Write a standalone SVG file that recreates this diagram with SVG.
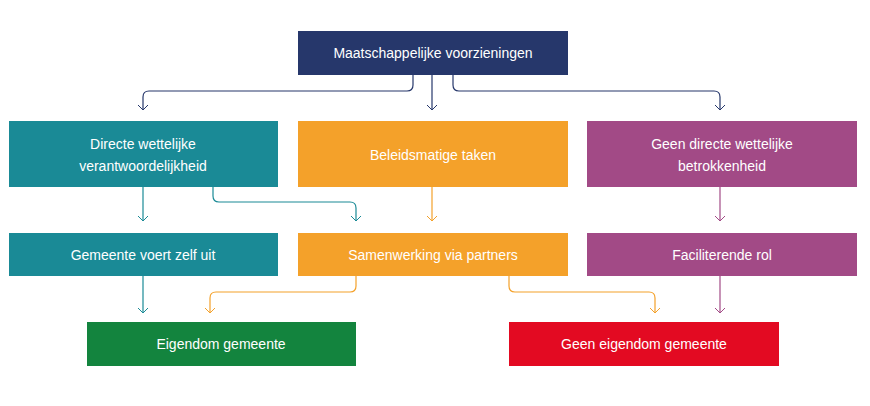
<svg xmlns="http://www.w3.org/2000/svg" width="870" height="406" viewBox="0 0 870 406">
<defs>
<marker id="a" viewBox="0 0 10 10" refX="5" refY="9" markerWidth="10" markerHeight="10" markerUnits="userSpaceOnUse" orient="0"><path d="M0,4 L5,9 L10,4" fill="none" stroke="context-stroke" stroke-width="1"/></marker>
<marker id="an" viewBox="0 0 10 10" refX="5" refY="9" markerWidth="10" markerHeight="10" markerUnits="userSpaceOnUse"><path d="M0,4 L5,9 L10,4" fill="none" stroke="#26376b" stroke-width="1"/></marker>
<marker id="at" viewBox="0 0 10 10" refX="5" refY="9" markerWidth="10" markerHeight="10" markerUnits="userSpaceOnUse"><path d="M0,4 L5,9 L10,4" fill="none" stroke="#1a8a96" stroke-width="1"/></marker>
<marker id="ao" viewBox="0 0 10 10" refX="5" refY="9" markerWidth="10" markerHeight="10" markerUnits="userSpaceOnUse"><path d="M0,4 L5,9 L10,4" fill="none" stroke="#f4a12a" stroke-width="1"/></marker>
<marker id="ap" viewBox="0 0 10 10" refX="5" refY="9" markerWidth="10" markerHeight="10" markerUnits="userSpaceOnUse"><path d="M0,4 L5,9 L10,4" fill="none" stroke="#a24a86" stroke-width="1"/></marker>
</defs>
<style>
text{font-family:"Liberation Sans",Arial,sans-serif;font-size:14px;fill:#fff;text-anchor:middle}
path.c{fill:none;stroke-width:1.2}
.n{stroke:#26376b;marker-end:url(#an)}
.t{stroke:#1a8a96;marker-end:url(#at)}
.o{stroke:#f4a12a;marker-end:url(#ao)}
.p{stroke:#a24a86;marker-end:url(#ap)}
</style>
<rect width="870" height="406" fill="#fff"/>
<g id="connectors">
<path class="c n" d="M413,75 V85 Q413,91 407,91 H149 Q143,91 143,97 V110"/>
<path class="c n" d="M432,75 V110"/>
<path class="c n" d="M453,75 V85 Q453,91 459,91 H714 Q720,91 720,97 V110"/>
<path class="c t" d="M143,187 V221"/>
<path class="c t" d="M213,187 V196 Q213,202 219,202 H350 Q356,202 356,208 V221"/>
<path class="c o" d="M432,187 V221"/>
<path class="c p" d="M720,187 V221"/>
<path class="c t" d="M143,276 V313"/>
<path class="c o" d="M356,276 V286 Q356,292 350,292 H216 Q210,292 210,298 V313"/>
<path class="c o" d="M509,276 V286 Q509,292 515,292 H649 Q655,292 655,298 V313"/>
<path class="c p" d="M720,276 V313"/>
</g>
<g id="top"><rect x="298" y="31" width="270" height="44" fill="#26376b"/><text x="433" y="58">Maatschappelijke voorzieningen</text></g>
<g id="directe"><rect x="9" y="121" width="269" height="66" fill="#1a8a96"/><text x="143" y="149">Directe wettelijke</text><text x="143" y="171">verantwoordelijkheid</text></g>
<g id="beleid"><rect x="298" y="121" width="270" height="66" fill="#f4a12a"/><text x="433" y="160">Beleidsmatige taken</text></g>
<g id="geen"><rect x="587" y="121" width="270" height="66" fill="#a24a86"/><text x="722" y="149">Geen directe wettelijke</text><text x="722" y="171">betrokkenheid</text></g>
<g id="zelf"><rect x="9" y="233" width="269" height="43" fill="#1a8a96"/><text x="143" y="260">Gemeente voert zelf uit</text></g>
<g id="samen"><rect x="298" y="233" width="270" height="43" fill="#f4a12a"/><text x="433" y="260">Samenwerking via partners</text></g>
<g id="facil"><rect x="587" y="233" width="270" height="43" fill="#a24a86"/><text x="722" y="260">Faciliterende rol</text></g>
<g id="eigen"><rect x="87" y="322" width="269" height="44" fill="#13843e"/><text x="221" y="349">Eigendom gemeente</text></g>
<g id="geeneigen"><rect x="509" y="322" width="270" height="44" fill="#e30a22"/><text x="644" y="349">Geen eigendom gemeente</text></g>
</svg>
